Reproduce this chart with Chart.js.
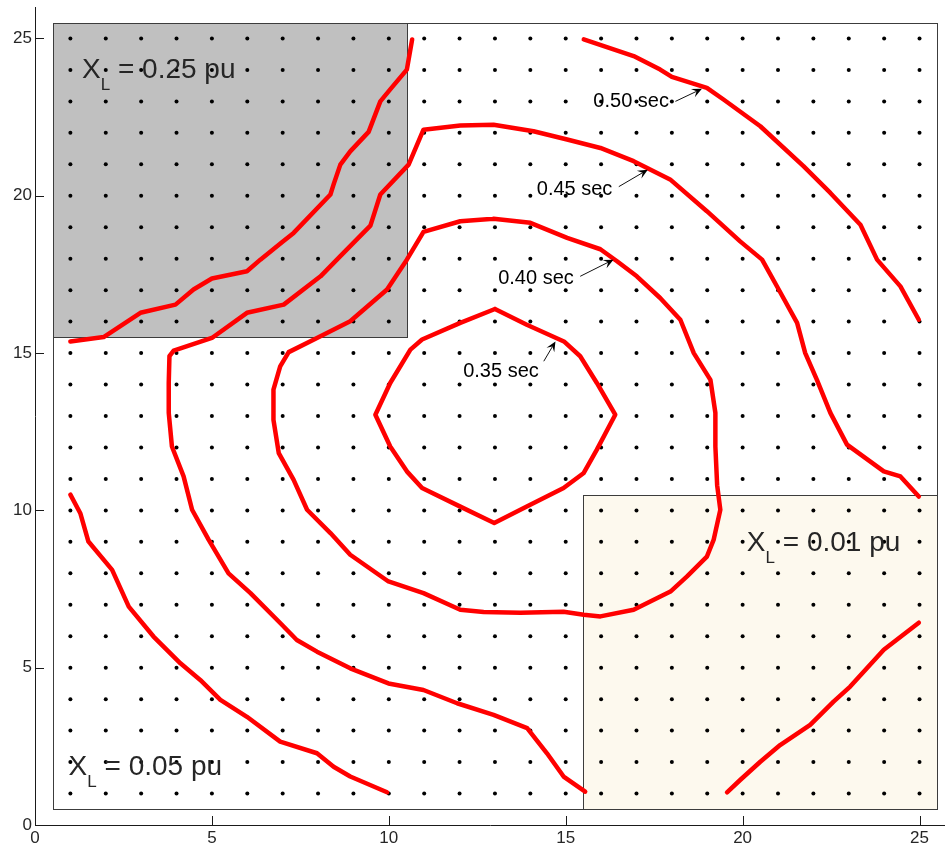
<!DOCTYPE html>
<html>
<head>
<meta charset="utf-8">
<script src="https://cdn.jsdelivr.net/npm/chart.js@4.4.1/dist/chart.umd.min.js"></script>
<style>
  html, body { margin: 0; padding: 0; background: #fff; overflow: hidden; }
  canvas { display: block; }
</style>
</head>
<body>
<canvas id="chart" width="945" height="846"></canvas>
<script>
// bus grid nodes (same on both axes)
const nodePos = [1, 2, 3, 4, 5, 6, 7, 8, 9, 10, 11, 12, 13, 14, 15, 16, 17, 18, 19, 20, 21, 22, 23, 24, 25];
const xTicks = [0, 5, 10, 15, 20, 25];
const yTicks = [0, 5, 10, 15, 20, 25];

// reactance zones [x0, x1, y0, y1]
const gridBox = [0.5, 25.5, 0.5, 25.5];
const zoneHigh = [0.5, 10.5, 15.5, 25.5];   // XL = 0.25 pu
const zoneLow = [15.5, 25.5, 0.5, 10.5];    // XL = 0.01 pu
const zoneValues = ['0.25', '0.05', '0.01'];

// iso-time contours (x, y)
const c035 = [[13, 16.4], [13.9, 15.9], [14.95, 15.37], [15.41, 14.9], [15.88, 14.05], [16.4, 13.04], [15.88, 11.93],
  [15.51, 11.19], [14.94, 10.71], [13.9, 10.12], [12.98, 9.6], [12.02, 10.12], [10.94, 10.71], [10.51, 11.24],
  [10.04, 12.03], [9.62, 13.04], [10.04, 14.05], [10.61, 15.11], [10.94, 15.43], [12.02, 15.96], [13, 16.4]];
const c040 = [[12.96, 19.27], [14.0, 19.14], [15.04, 18.66], [15.98, 18.3], [16.45, 17.92], [17.01, 17.44], [17.67, 16.75],
  [18.24, 16.06], [18.62, 15.0], [19.09, 14.15], [19.23, 13.1], [19.23, 12.03], [19.28, 10.8], [19.37, 10.02],
  [19.18, 9.06], [18.99, 8.53], [18.43, 7.9], [17.96, 7.42], [16.92, 6.84], [15.98, 6.63], [15.51, 6.68],
  [14.94, 6.78], [13.72, 6.75], [12.68, 6.77], [12.02, 6.84], [10.98, 7.37], [9.99, 7.74], [8.91, 8.59],
  [8.35, 9.28], [7.69, 10.02], [7.31, 10.97], [6.89, 11.82], [6.74, 12.88], [6.74, 13.84], [6.93, 14.58],
  [7.17, 15.03], [7.97, 15.48], [8.91, 16.01], [9.95, 17.02], [10.51, 17.97], [10.98, 18.85], [12.02, 19.19],
  [12.96, 19.27]];
const c045 = [[24.98, 10.44], [24.46, 11.08], [23.99, 11.24], [22.95, 12.09], [22.48, 13.1], [22.1, 14.15], [21.77, 15.0],
  [21.54, 15.96], [21.02, 17.02], [20.55, 17.97], [19.93, 18.55], [18.99, 19.51], [17.95, 20.52], [16.92, 21.1],
  [15.98, 21.52], [15.04, 21.79], [14.09, 22.05], [12.96, 22.26], [12.02, 22.23], [10.98, 22.1], [10.56, 20.99],
  [9.76, 20.04], [9.48, 19.05], [8.63, 18.08], [8.07, 17.44], [7.03, 16.54], [5.99, 16.28], [5.0, 15.48],
  [3.92, 15.08], [3.8, 14.9], [3.78, 14.05], [3.78, 13.1], [3.87, 12.03], [4.2, 11.08], [4.44, 10.02],
  [4.91, 9.06], [5.47, 8.0], [6.09, 7.37], [6.93, 6.42], [7.4, 5.88], [7.97, 5.51], [8.91, 4.98], [9.99, 4.5],
  [10.98, 4.29], [11.93, 3.87], [12.96, 3.5], [13.91, 3.08], [14.47, 2.28], [14.94, 1.54], [15.55, 1.06]];
const c050a = [[1.0, 15.37], [1.94, 15.51], [2.98, 16.28], [3.97, 16.54], [4.48, 17.02], [5.0, 17.37], [5.99, 17.6],
  [6.37, 17.97], [6.98, 18.52], [7.31, 18.82], [8.35, 20.04], [8.44, 20.36], [8.63, 20.99], [8.91, 21.41],
  [9.43, 22.03], [9.76, 23.0], [10.04, 23.38], [10.51, 24.01], [10.66, 24.97]];
const c050b = [[15.51, 24.97], [16.92, 24.44], [17.67, 24.01], [18.0, 23.78], [18.99, 23.43], [19.46, 23.06],
  [20.5, 22.21], [21.72, 20.94], [22.48, 20.09], [23.33, 19.08], [23.8, 17.97], [24.46, 17.12], [24.98, 16.06]];
const c050c = [[1.0, 10.5], [1.28, 9.91], [1.51, 9.01], [2.18, 8.11], [2.65, 6.94], [3.35, 5.99], [4.11, 5.14],
  [4.67, 4.61], [5.24, 3.98], [5.99, 3.44], [6.93, 2.65], [7.97, 2.28], [8.44, 1.85], [8.91, 1.54], [9.95, 1.04]];
const c050d = [[19.56, 1.04], [19.93, 1.43], [20.5, 2.01], [21.06, 2.54], [21.91, 3.18], [22.57, 3.92],
  [23.04, 4.4], [23.99, 5.57], [24.98, 6.43]];
const timeLabels = ['0.50 sec', '0.45 sec', '0.40 sec', '0.35 sec'];

const FONT = '"Liberation Sans", Arial, sans-serif';
const toPts = arr => arr.map(p => ({ x: p[0], y: p[1] }));

const nodes = [];
nodePos.forEach(i => nodePos.forEach(j => nodes.push({ x: i, y: j })));

const contour = pts => ({
  data: toPts(pts),
  showLine: true,
  borderColor: '#ff0000',
  borderWidth: 4.5,
  pointRadius: 0,
  tension: 0,
  fill: false,
  borderJoinStyle: 'round',
  borderCapStyle: 'round',
  order: 0
});

// zones, box and inward ticks under the data
const zones = {
  id: 'zones',
  beforeDatasetsDraw(chart) {
    const { ctx, chartArea, scales: { x, y } } = chart;
    const rect = (b, fill) => {
      const l = Math.round(x.getPixelForValue(b[0])) + 0.5;
      const r = Math.round(x.getPixelForValue(b[1])) + 0.5;
      const t = Math.round(y.getPixelForValue(b[3])) + 0.5;
      const bt = Math.round(y.getPixelForValue(b[2])) + 0.5;
      if (fill) { ctx.fillStyle = fill; ctx.fillRect(l, t, r - l, bt - t); }
      ctx.strokeStyle = '#3c3c3c';
      ctx.lineWidth = 1;
      ctx.strokeRect(l, t, r - l, bt - t);
    };
    ctx.save();
    rect(gridBox, null);
    rect(zoneHigh, '#c0c0c0');
    rect(zoneLow, '#fdf9ee');
    ctx.strokeStyle = '#1a1a1a';
    ctx.lineWidth = 1;
    ctx.beginPath();
    xTicks.forEach(v => {
      const px = Math.round(x.getPixelForValue(v)) + 0.5;
      ctx.moveTo(px, chartArea.bottom);
      ctx.lineTo(px, chartArea.bottom - 9);
    });
    yTicks.forEach(v => {
      const py = Math.round(y.getPixelForValue(v)) + 0.5;
      ctx.moveTo(chartArea.left, py);
      ctx.lineTo(chartArea.left + 9, py);
    });
    ctx.stroke();
    ctx.restore();
  }
};

// labels and arrows on top
const notes = {
  id: 'notes',
  afterDatasetsDraw(chart) {
    const { ctx, scales: { x, y } } = chart;
    const px = v => x.getPixelForValue(v);
    const py = v => y.getPixelForValue(v);
    ctx.save();

    const labelAt = [[16.85, 23.0], [15.25, 20.2], [14.16, 17.38], [13.17, 14.4]];
    const arrows = [
      [18.1, 23.0, 18.85, 23.4],
      [16.5, 20.29, 17.32, 20.83],
      [15.41, 17.44, 16.35, 17.97],
      [14.38, 14.74, 14.71, 15.37]
    ];
    ctx.fillStyle = '#000';
    ctx.font = '20px ' + FONT;
    ctx.textAlign = 'center';
    ctx.textBaseline = 'middle';
    timeLabels.forEach((t, i) => ctx.fillText(t, px(labelAt[i][0]), py(labelAt[i][1])));

    ctx.strokeStyle = '#111';
    ctx.lineWidth = 1;
    arrows.forEach(a => {
      const x0 = px(a[0]), y0 = py(a[1]), x1 = px(a[2]), y1 = py(a[3]);
      const ang = Math.atan2(y1 - y0, x1 - x0);
      ctx.beginPath();
      ctx.moveTo(x0, y0);
      ctx.lineTo(x1 - 6 * Math.cos(ang), y1 - 6 * Math.sin(ang));
      ctx.stroke();
      const L = 10, W = 4.5;
      const bx = x1 - L * Math.cos(ang), by = y1 - L * Math.sin(ang);
      const nx = x1 - 0.6 * L * Math.cos(ang), ny = y1 - 0.6 * L * Math.sin(ang);
      ctx.beginPath();
      ctx.moveTo(x1, y1);
      ctx.lineTo(bx + W * Math.sin(ang), by - W * Math.cos(ang));
      ctx.lineTo(nx, ny);
      ctx.lineTo(bx - W * Math.sin(ang), by + W * Math.cos(ang));
      ctx.closePath();
      ctx.fill();
    });

    // X_L zone captions (left edge, baseline)
    const zoneAt = [[1.33, 23.75], [0.95, 1.59], [20.12, 8.7]];
    ctx.fillStyle = '#262626';
    ctx.textAlign = 'left';
    ctx.textBaseline = 'alphabetic';
    zoneValues.forEach((v, i) => {
      const x0 = px(zoneAt[i][0]), y0 = py(zoneAt[i][1]);
      ctx.font = '28px ' + FONT;
      ctx.fillText('X', x0, y0);
      let w = ctx.measureText('X').width;
      ctx.font = '17px ' + FONT;
      ctx.fillText('L', x0 + w, y0 + 12);
      w += ctx.measureText('L').width;
      ctx.font = '28px ' + FONT;
      ctx.fillText(' = ' + v + ' pu', x0 + w, y0);
    });
    ctx.restore();
  }
};

const axisStyle = ticks => ({
  type: 'linear',
  grid: { display: false, drawTicks: false },
  border: { display: true, color: '#1a1a1a', width: 1 },
  ticks: { color: '#262626', font: { family: FONT, size: 17 }, includeBounds: false },
  afterBuildTicks(scale) { scale.ticks = ticks.map(v => ({ value: v })); }
});

new Chart(document.getElementById('chart').getContext('2d'), {
  type: 'scatter',
  data: {
    datasets: [
      contour(c035), contour(c040), contour(c045),
      contour(c050a), contour(c050b), contour(c050c), contour(c050d),
      {
        data: nodes,
        pointRadius: 2,
        pointBackgroundColor: '#000',
        pointBorderWidth: 0,
        showLine: false,
        order: 1
      }
    ]
  },
  options: {
    responsive: false,
    animation: false,
    layout: { autoPadding: false, padding: { top: 7, left: 0, right: 0, bottom: 0 } },
    plugins: { legend: { display: false }, tooltip: { enabled: false } },
    scales: {
      x: Object.assign(axisStyle(xTicks), {
        min: 0, max: 25.72,
        afterFit(scale) { scale.height = 21; scale.paddingLeft = 0; scale.paddingRight = 0; }
      }),
      y: Object.assign(axisStyle(yTicks), {
        min: 0, max: 26,
        afterFit(scale) { scale.width = 35; scale.paddingTop = 0; scale.paddingBottom = 0; }
      })
    }
  },
  plugins: [zones, notes]
});
</script>
</body>
</html>
